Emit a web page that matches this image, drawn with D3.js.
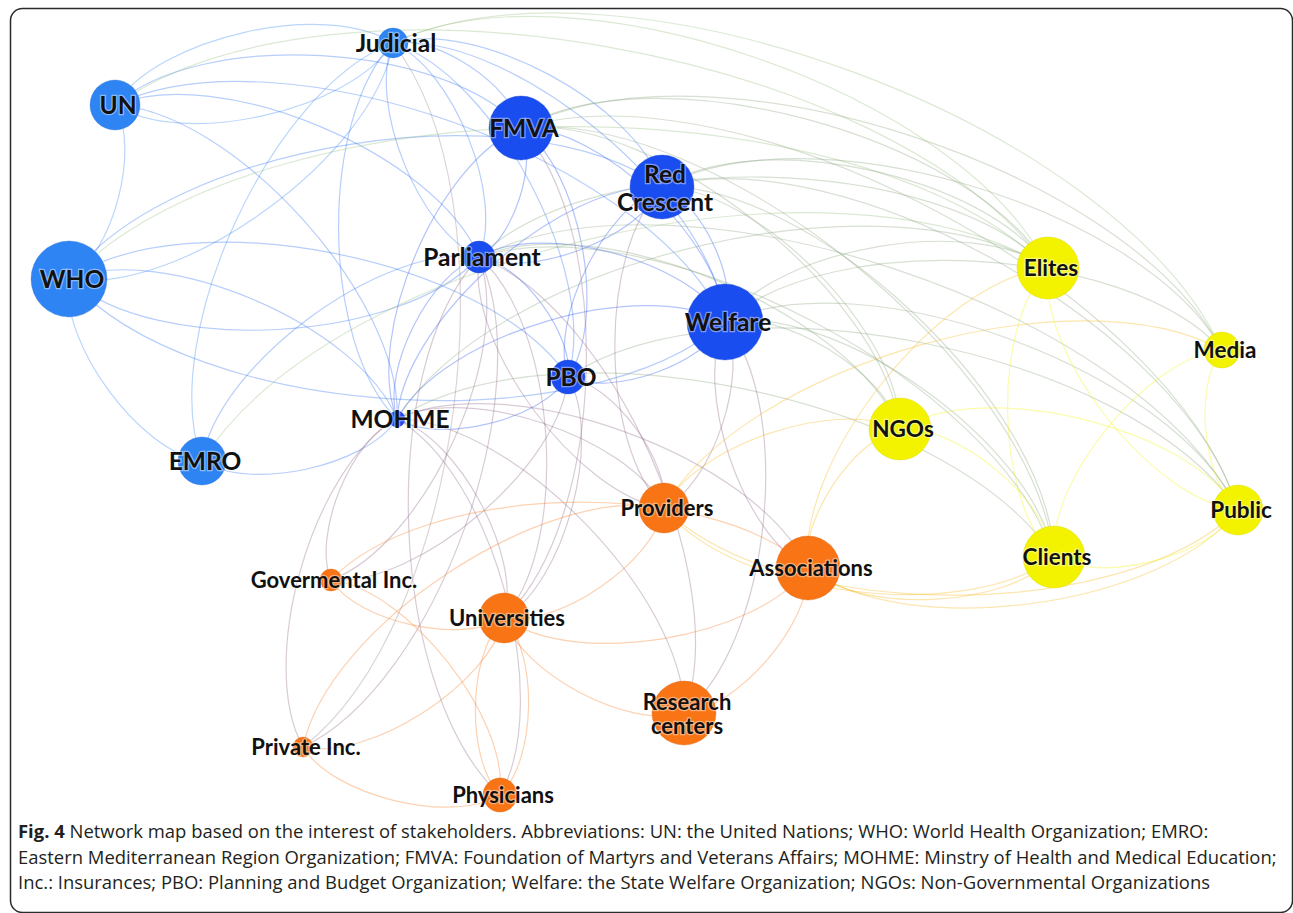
<!DOCTYPE html>
<html>
<head>
<meta charset="utf-8">
<script src="https://d3js.org/d3.v7.min.js"></script>
<style>
  body { margin: 0; background: #fff; }
  .label { font-family: Lato, "Open Sans", sans-serif; font-weight: 700; fill: #111;
           paint-order: stroke; stroke: rgba(255,255,255,0.45); stroke-width: 2.5px; }
  .caption { font-family: "Open Sans", sans-serif; fill: #231f20; }
</style>
</head>
<body>
<div id="chart"></div>
<script>

// nodes of the stakeholder network (layout coordinates, y pointing up)
const nodeIds    = ["Judicial", "UN", "WHO", "EMRO", "FMVA", "RedCrescent", "Parliament", "Welfare", "PBO", "MOHME",
                    "Elites", "Media", "NGOs", "Clients", "Public",
                    "Providers", "Associations", "GovInc", "Universities", "ResearchCenters", "PrivateInc", "Physicians"];
const nodeLabels = ["Judicial", "UN", "WHO", "EMRO", "FMVA", "Red\nCrescent", "Parliament", "Welfare", "PBO", "MOHME",
                    "Elites", "Media", "NGOs", "Clients", "Public",
                    "Providers", "Associations", "Govermental Inc.", "Universities", "Research\ncenters", "Private Inc.", "Physicians"];
const nodeGroups = ["intl", "intl", "intl", "intl", "gov", "gov", "gov", "gov", "gov", "gov",
                    "society", "society", "society", "society", "society",
                    "sector", "sector", "sector", "sector", "sector", "sector", "sector"];
const layoutX    = [-252, -530, -576, -443, -124, 17, -166, 80, -77, -248,
                    403, 577, 255, 409, 593,
                    19, 163, -314, -141, 39, -342, -145];
const layoutY    = [377, 315, 141, -41, 292, 233, 163, 98, 43, 1,
                    152, 70, -9, -137, -90,
                    -88, -148, -160, -198, -293, -327, -375];
const nodeSize   = [15, 25, 38, 24, 32, 32, 16, 38, 17, 8,
                    31, 18, 31, 31, 25,
                    25, 32, 11, 25, 32, 10, 17];

// edges (source -> target)
const govEdges = [
  ["UN","Judicial"], ["Judicial","UN"], ["UN","WHO"], ["Judicial","WHO"], ["Parliament","WHO"], ["Welfare","WHO"],
  ["WHO","RedCrescent"], ["WHO","MOHME"], ["EMRO","WHO"], ["UN","Welfare"], ["UN","MOHME"], ["UN","Parliament"],
  ["UN","FMVA"], ["Judicial","Parliament"], ["Parliament","Judicial"], ["Judicial","FMVA"], ["Judicial","Welfare"],
  ["MOHME","Judicial"], ["Judicial","PBO"], ["EMRO","Judicial"], ["Judicial","RedCrescent"], ["FMVA","Parliament"],
  ["MOHME","FMVA"], ["FMVA","PBO"], ["FMVA","Welfare"], ["RedCrescent","Welfare"], ["PBO","RedCrescent"],
  ["RedCrescent","Parliament"], ["MOHME","RedCrescent"], ["Parliament","PBO"], ["Parliament","Welfare"],
  ["MOHME","Parliament"], ["EMRO","Parliament"], ["PBO","MOHME"], ["MOHME","Welfare"], ["MOHME","EMRO"],
  ["WHO","PBO"], ["Welfare","PBO"]
];
const govSocietyEdges = [
  ["Judicial","Media"], ["UN","Elites"], ["WHO","Elites"], ["EMRO","Elites"], ["FMVA","Elites"], ["FMVA","Media"],
  ["FMVA","Public"], ["FMVA","Clients"], ["RedCrescent","Elites"], ["RedCrescent","Media"], ["RedCrescent","Public"],
  ["RedCrescent","Clients"], ["RedCrescent","NGOs"], ["Welfare","Elites"], ["Welfare","Media"], ["Welfare","Public"],
  ["Welfare","Clients"], ["Welfare","NGOs"], ["Parliament","Elites"], ["Parliament","Public"], ["Parliament","Clients"],
  ["Parliament","NGOs"], ["MOHME","Elites"], ["MOHME","Clients"], ["PBO","Public"], ["Judicial","Elites"], ["FMVA","NGOs"]
];
const govSectorEdges = [
  ["MOHME","Physicians"], ["MOHME","Providers"], ["MOHME","Associations"], ["MOHME","ResearchCenters"],
  ["GovInc","MOHME"], ["PrivateInc","MOHME"], ["MOHME","Universities"], ["Parliament","GovInc"],
  ["Parliament","PrivateInc"], ["Parliament","Universities"], ["Parliament","ResearchCenters"], ["Providers","Parliament"],
  ["FMVA","Universities"], ["Providers","RedCrescent"], ["Welfare","Providers"], ["Welfare","ResearchCenters"],
  ["Associations","Welfare"], ["PBO","Universities"], ["PBO","Providers"], ["PBO","GovInc"], ["Judicial","PrivateInc"],
  ["Physicians","Parliament"]
];
const sectorEdges = [
  ["Universities","GovInc"], ["GovInc","Physicians"], ["Physicians","PrivateInc"], ["Universities","PrivateInc"],
  ["PrivateInc","Providers"], ["Universities","Physicians"], ["Physicians","Universities"], ["ResearchCenters","Universities"],
  ["Associations","Universities"], ["Providers","Universities"], ["Associations","ResearchCenters"], ["GovInc","Associations"]
];
const sectorSocietyEdges = [
  ["Associations","Elites"], ["Associations","NGOs"], ["Providers","Media"], ["Clients","Associations"],
  ["Public","Associations"], ["Clients","Providers"], ["Providers","NGOs"], ["Public","Providers"]
];
const societyEdges = [
  ["Clients","Elites"], ["Public","Elites"], ["NGOs","Clients"], ["NGOs","Public"], ["Clients","Media"],
  ["Public","Media"], ["Public","Clients"]
];

const captionLines = [
  ["Fig. 4", " Network map based on the interest of stakeholders. Abbreviations: UN: the United Nations; WHO: World Health Organization; EMRO:"],
  ["", "Eastern Mediterranean Region Organization; FMVA: Foundation of Martyrs and Veterans Affairs; MOHME: Minstry of Health and Medical Education;"],
  ["", "Inc.: Insurances; PBO: Planning and Budget Organization; Welfare: the State Welfare Organization; NGOs: Non-Governmental Organizations"]
];

const w = 1293;
const h = 913;

const nodes = nodeIds.map((id, i) => ({
  id: id, label: nodeLabels[i], group: nodeGroups[i], x: layoutX[i], y: layoutY[i], size: nodeSize[i]
}));
const byId = new Map(nodes.map(d => [d.id, d]));
const edges = [].concat(govEdges, govSocietyEdges, govSectorEdges, sectorEdges, sectorSocietyEdges, societyEdges)
  .map(e => ({ source: byId.get(e[0]), target: byId.get(e[1]) }));

const xScale = d3.scaleLinear().domain([-640, 640]).range([5, 1285]);
const yScale = d3.scaleLinear().domain([400, -400]).range([20, 820]);
const rScale = d3.scaleLinear().domain([0, 40]).range([0, 40]);

const color = d3.scaleOrdinal()
  .domain(["intl", "gov", "society", "sector"])
  .range(["#2f84f4", "#1a4def", "#f3f300", "#f87414"]);

const labelSize = d3.scaleOrdinal()
  .domain(["intl", "gov", "society", "sector"])
  .range([24.5, 24.5, 22.5, 22]);

const svg = d3.select("#chart").append("svg")
  .attr("width", w)
  .attr("height", h);

// frame
svg.append("rect")
  .attr("x", 10.5).attr("y", 8.5)
  .attr("width", 1282).attr("height", 904)
  .attr("rx", 12)
  .attr("fill", "#fff")
  .attr("stroke", "#2a2a2a")
  .attr("stroke-width", 1.5);

// gephi-like curved edge
function curve(e) {
  const x1 = xScale(e.source.x), y1 = yScale(e.source.y);
  const x2 = xScale(e.target.x), y2 = yScale(e.target.y);
  const dx = x2 - x1, dy = y2 - y1;
  const len = Math.hypot(dx, dy);
  const ux = dx / len, uy = dy / len;
  const f = 0.2 * len;
  const nx = uy * f, ny = -ux * f;
  const p = d3.path();
  p.moveTo(x1, y1);
  p.bezierCurveTo(x1 + ux * f + nx, y1 + uy * f + ny, x2 - ux * f + nx, y2 - uy * f + ny, x2, y2);
  return p.toString();
}

svg.append("g")
  .selectAll("path")
  .data(edges)
  .enter()
  .append("path")
  .attr("d", curve)
  .attr("fill", "none")
  .attr("stroke", d => d3.interpolateRgb(color(d.source.group), color(d.target.group))(0.5))
  .attr("stroke-opacity", 0.33)
  .attr("stroke-width", 1.2);

svg.append("g")
  .selectAll("circle")
  .data(nodes)
  .enter()
  .append("circle")
  .attr("cx", d => xScale(d.x))
  .attr("cy", d => yScale(d.y))
  .attr("r", d => rScale(d.size))
  .attr("fill", d => color(d.group))
  .attr("stroke", d => d3.color(color(d.group)).darker(0.4))
  .attr("stroke-opacity", 0.35)
  .attr("stroke-width", 1);

const labels = svg.append("g")
  .selectAll("text")
  .data(nodes)
  .enter()
  .append("text")
  .attr("class", "label")
  .attr("text-anchor", "middle")
  .attr("x", d => xScale(d.x) + 3)
  .attr("y", d => yScale(d.y))
  .style("font-size", d => labelSize(d.group) + "px");

labels.each(function(d) {
  const lines = d.label.split("\n");
  const sel = d3.select(this);
  lines.forEach((t, i) => {
    sel.append("tspan")
      .attr("x", xScale(d.x) + 3)
      .attr("dy", i === 0 ? (0.35 - (lines.length - 1) * 0.5) + "em" : "1.12em")
      .text(t);
  });
});

// caption, one text per line
captionLines.forEach((line, i) => {
  const t = svg.append("text")
    .attr("class", "caption")
    .attr("x", 18)
    .attr("y", 838 + i * 25.5)
    .style("font-size", "18.45px");
  if (line[0]) t.append("tspan").style("font-weight", 700).text(line[0]);
  t.append("tspan").text(line[1]);
});

</script>
</body>
</html>
